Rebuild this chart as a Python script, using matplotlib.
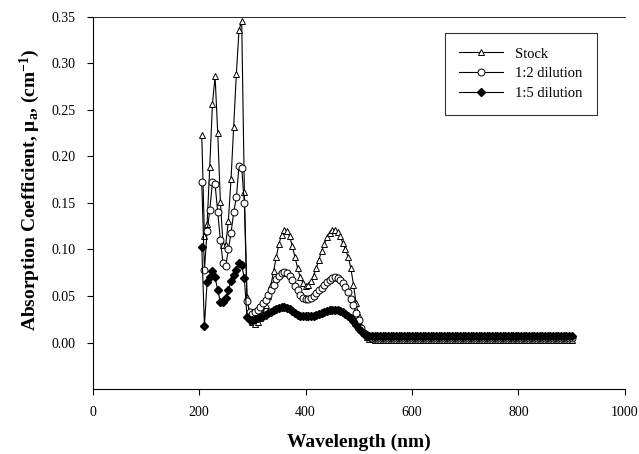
import numpy as np
import matplotlib
matplotlib.use("Agg")
import matplotlib.pyplot as plt

plt.rcParams['font.family'] = ['Liberation Serif', 'DejaVu Serif']

# wavelength grid (nm), 5 nm steps
wavelength = np.arange(205, 905, 5)

stock = [
    0.223, 0.114, 0.127, 0.189, 0.256, 0.286, 0.225, 0.151, 0.105, 0.105,
    0.131, 0.176, 0.232, 0.289, 0.336, 0.345, 0.162, 0.049, 0.030, 0.022,
    0.020, 0.022, 0.026, 0.032, 0.040, 0.050, 0.062, 0.077, 0.092, 0.106,
    0.116, 0.121, 0.120, 0.114, 0.104, 0.092, 0.080, 0.070, 0.064, 0.061,
    0.062, 0.066, 0.072, 0.080, 0.089, 0.098, 0.106, 0.113, 0.118, 0.121,
    0.121, 0.119, 0.114, 0.107, 0.100, 0.092, 0.080, 0.062, 0.042, 0.028,
    0.018, 0.010, 0.006, 0.004, 0.004, 0.003, 0.003, 0.003, 0.003, 0.003,
    0.003, 0.003, 0.003, 0.003, 0.003, 0.003, 0.003, 0.003, 0.003, 0.003,
    0.003, 0.003, 0.003, 0.003, 0.003, 0.003, 0.003, 0.003, 0.003, 0.003,
    0.003, 0.003, 0.003, 0.003, 0.003, 0.003, 0.003, 0.003, 0.003, 0.003,
    0.003, 0.003, 0.003, 0.003, 0.003, 0.003, 0.003, 0.003, 0.003, 0.003,
    0.003, 0.003, 0.003, 0.003, 0.003, 0.003, 0.003, 0.003, 0.003, 0.003,
    0.003, 0.003, 0.003, 0.003, 0.003, 0.003, 0.003, 0.003, 0.003, 0.003,
    0.003, 0.003, 0.003, 0.003, 0.003, 0.003, 0.003, 0.003, 0.003, 0.003,
]

dil_1_2 = [
    0.172, 0.078, 0.120, 0.142, 0.172, 0.170, 0.140, 0.110, 0.085, 0.082,
    0.100, 0.118, 0.140, 0.156, 0.190, 0.188, 0.150, 0.045, 0.033, 0.031,
    0.033, 0.035, 0.038, 0.042, 0.046, 0.051, 0.056, 0.062, 0.068, 0.072,
    0.075, 0.076, 0.075, 0.072, 0.067, 0.061, 0.056, 0.051, 0.048, 0.047,
    0.047, 0.048, 0.050, 0.053, 0.056, 0.059, 0.062, 0.065, 0.067, 0.069,
    0.070, 0.069, 0.067, 0.064, 0.060, 0.054, 0.047, 0.040, 0.032, 0.024,
    0.016, 0.010, 0.007, 0.006, 0.005, 0.005, 0.005, 0.005, 0.005, 0.005,
    0.005, 0.005, 0.005, 0.005, 0.005, 0.005, 0.005, 0.005, 0.005, 0.005,
    0.005, 0.005, 0.005, 0.005, 0.005, 0.005, 0.005, 0.005, 0.005, 0.005,
    0.005, 0.005, 0.005, 0.005, 0.005, 0.005, 0.005, 0.005, 0.005, 0.005,
    0.005, 0.005, 0.005, 0.005, 0.005, 0.005, 0.005, 0.005, 0.005, 0.005,
    0.005, 0.005, 0.005, 0.005, 0.005, 0.005, 0.005, 0.005, 0.005, 0.005,
    0.005, 0.005, 0.005, 0.005, 0.005, 0.005, 0.005, 0.005, 0.005, 0.005,
    0.005, 0.005, 0.005, 0.005, 0.005, 0.005, 0.005, 0.005, 0.005, 0.005,
]

dil_1_5 = [
    0.103, 0.018, 0.065, 0.070, 0.077, 0.070, 0.056, 0.044, 0.044, 0.048,
    0.056, 0.066, 0.073, 0.078, 0.085, 0.083, 0.069, 0.027, 0.024, 0.024,
    0.025, 0.026, 0.027, 0.029, 0.030, 0.032, 0.033, 0.035, 0.036, 0.037,
    0.038, 0.038, 0.037, 0.036, 0.034, 0.032, 0.030, 0.029, 0.028, 0.028,
    0.028, 0.029, 0.029, 0.030, 0.031, 0.032, 0.033, 0.034, 0.035, 0.035,
    0.035, 0.035, 0.034, 0.033, 0.031, 0.029, 0.026, 0.023, 0.019, 0.015,
    0.012, 0.009, 0.008, 0.007, 0.007, 0.007, 0.007, 0.007, 0.007, 0.007,
    0.007, 0.007, 0.007, 0.007, 0.007, 0.007, 0.007, 0.007, 0.007, 0.007,
    0.007, 0.007, 0.007, 0.007, 0.007, 0.007, 0.007, 0.007, 0.007, 0.007,
    0.007, 0.007, 0.007, 0.007, 0.007, 0.007, 0.007, 0.007, 0.007, 0.007,
    0.007, 0.007, 0.007, 0.007, 0.007, 0.007, 0.007, 0.007, 0.007, 0.007,
    0.007, 0.007, 0.007, 0.007, 0.007, 0.007, 0.007, 0.007, 0.007, 0.007,
    0.007, 0.007, 0.007, 0.007, 0.007, 0.007, 0.007, 0.007, 0.007, 0.007,
    0.007, 0.007, 0.007, 0.007, 0.007, 0.007, 0.007, 0.007, 0.007, 0.007,
]

fig = plt.figure(figsize=(6.39, 4.54), dpi=100)
ax = fig.add_axes([0.145, 0.143, 0.833, 0.82])

ax.plot(wavelength, stock, color='black', lw=0.8, marker='^', ms=5,
        mfc='white', mec='black', mew=0.7, label='Stock', clip_on=False)
ax.plot(wavelength, dil_1_2, color='black', lw=0.8, marker='o', ms=5,
        mfc='white', mec='black', mew=0.7, label='1:2 dilution')
ax.plot(wavelength, dil_1_5, color='black', lw=0.8, marker='D', ms=4.2,
        mfc='black', mec='black', label='1:5 dilution')

ax.set_xlim(0, 1000)
ax.set_ylim(-0.05, 0.35)
ax.set_xticks([0, 200, 400, 600, 800, 1000])
ax.set_yticks([0.0, 0.05, 0.10, 0.15, 0.20, 0.25, 0.30, 0.35])
ax.set_yticklabels(['%.2f' % v for v in ax.get_yticks()])
ax.spines['right'].set_visible(False)
ax.spines['top'].set_linewidth(0.6)
ax.tick_params(direction='out', length=4, width=0.8, labelsize=10, pad=8)

ax.set_xlabel('Wavelength (nm)', fontsize=14, fontweight='bold', labelpad=11)
ax.set_ylabel(r'Absorption Coefficient, $\mathregular{\mu_a}$, (cm$\mathregular{^{-1}}$)',
              fontsize=14, fontweight='bold')
ax.yaxis.set_label_coords(-0.095, 0.535)

leg = ax.legend(loc='upper right', bbox_to_anchor=(0.947, 0.957), borderaxespad=0,
                frameon=True, fancybox=False, fontsize=10.5, handlelength=3.0,
                labelspacing=0.45, borderpad=1.0, handletextpad=0.8)
leg.get_frame().set_edgecolor('black')
leg.get_frame().set_linewidth(0.8)

fig.savefig('out.png', dpi=100)
